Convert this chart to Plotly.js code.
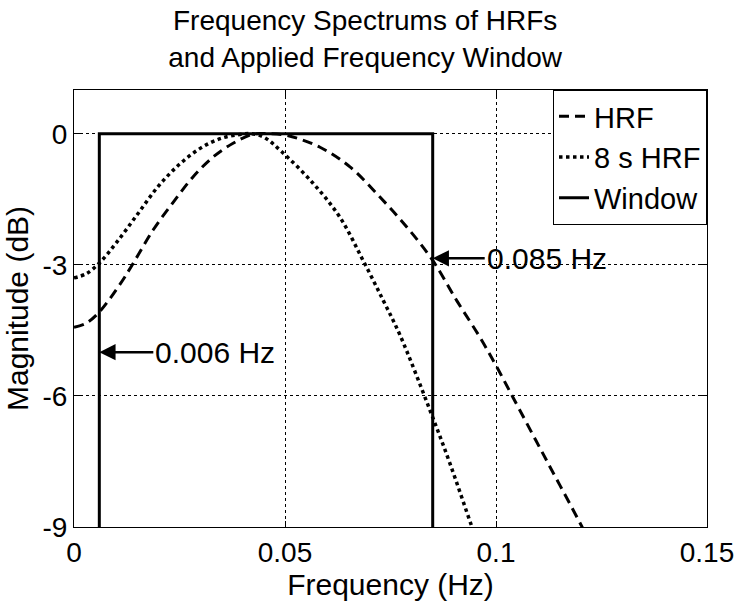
<!DOCTYPE html>
<html>
<head>
<meta charset="utf-8">
<script src="https://cdn.plot.ly/plotly-3.0.1.min.js"></script>
<style>
  body { margin: 0; background: #fff; }
  #chart { width: 745px; height: 603px; }
</style>
</head>
<body>
<div id="chart"></div>
<script>
        // HRF spectrum (dashed)
        var hrfFreq = [0, 0.003, 0.006, 0.011, 0.014, 0.0187, 0.0235, 0.0282, 0.033, 0.0377, 0.0424, 0.046, 0.0505, 0.0583, 0.0654, 0.0725, 0.0789, 0.085, 0.0907, 0.0962, 0.1002, 0.104, 0.112, 0.1204, 0.125];
        var hrfDb = [-4.43, -4.33, -4.08, -3.43, -2.97, -2.21, -1.57, -0.99, -0.53, -0.22, -0.01, 0, -0.04, -0.31, -0.76, -1.45, -2.14, -2.9, -3.82, -4.66, -5.34, -6.03, -7.48, -9.0, -9.9];

        // 8 s HRF spectrum (dotted)
        var hrf8Freq = [0, 0.003, 0.0062, 0.01, 0.015, 0.02, 0.025, 0.03, 0.035, 0.04, 0.042, 0.045, 0.0493, 0.0567, 0.063, 0.0685, 0.0733, 0.0773, 0.0844, 0.0891, 0.0943, 0.098];
        var hrf8Db = [-3.3, -3.2, -2.94, -2.5, -1.85, -1.2, -0.7, -0.33, -0.1, -0.01, 0, -0.08, -0.42, -1.14, -1.91, -2.9, -3.82, -4.62, -6.34, -7.55, -9.0, -10];

        // frequency window
        var winFreq = [0.006, 0.006, 0.085, 0.085];
        var winDb = [-9, 0, 0, -9];

        var xTicks = [0, 0.05, 0.1, 0.15];
        var xTickText = ['0', '0.05', '0.1', '0.15'];
        var yTicks = [-9, -6, -3, 0];
        var yTickText = ['-9', '-6', '-3', '0'];

        var fontFam = 'Arial, "Liberation Sans", Helvetica, sans-serif';

        var hrf = {
            x: hrfFreq, y: hrfDb, name: 'HRF', type: 'scatter', mode: 'lines',
            line: {color: '#000', width: 3, dash: '10px,6px', shape: 'spline'}
        };
        var hrf8 = {
            x: hrf8Freq, y: hrf8Db, name: '8 s HRF', type: 'scatter', mode: 'lines',
            line: {color: '#000', width: 3.5, dash: 'dot', shape: 'spline'}
        };
        var win = {
            x: winFreq, y: winDb, name: 'Window', type: 'scatter', mode: 'lines',
            line: {color: '#000', width: 3}
        };

        var axisBase = {
            showline: true, linecolor: '#000', linewidth: 1, mirror: 'ticks',
            ticks: 'inside', ticklen: 6, tickcolor: '#000',
            showgrid: true, gridcolor: '#000', gridwidth: 1, griddash: 'dot',
            zeroline: false, tickfont: {size: 28, color: '#000'}
        };

        var layout = {
            width: 745, height: 603,
            margin: {l: 74, r: 38, t: 90, b: 76},
            paper_bgcolor: '#fff', plot_bgcolor: '#fff',
            font: {family: fontFam, color: '#000'},
            showlegend: true,
            title: {
                text: 'Frequency Spectrums of HRFs<br>and Applied Frequency Window',
                font: {size: 28, color: '#000'},
                xref: 'paper', x: 0.46, xanchor: 'center',
                yref: 'container', y: 0.95, yanchor: 'top'
            },
            xaxis: Object.assign({}, axisBase, {
                range: [0, 0.15], tickvals: xTicks, ticktext: xTickText,
                title: {text: 'Frequency (Hz)', font: {size: 30, color: '#000'}, standoff: 0}
            }),
            yaxis: Object.assign({}, axisBase, {
                range: [-9, 1], tickvals: yTicks, ticktext: yTickText,
                title: {text: 'Magnitude (dB)', font: {size: 30, color: '#000'}, standoff: 4}
            }),
            legend: {
                x: 1, xanchor: 'right', y: 1, yanchor: 'top',
                bgcolor: '#fff', bordercolor: '#000', borderwidth: 1,
                font: {size: 29, color: '#000'},
                tracegroupgap: 0, itemwidth: 30
            },
            annotations: [
                {x: 0.085, y: -2.85, xref: 'x', yref: 'y', text: '0.085 Hz',
                 showarrow: true, ax: 52, ay: 0, xanchor: 'left',
                 arrowhead: 2, arrowsize: 1.3, arrowwidth: 2.5, arrowcolor: '#000', standoff: 0,
                 font: {size: 30, color: '#000'}},
                {x: 0.006, y: -5.0, xref: 'x', yref: 'y', text: '0.006 Hz',
                 showarrow: true, ax: 54, ay: 0, xanchor: 'left',
                 arrowhead: 2, arrowsize: 1.3, arrowwidth: 2.5, arrowcolor: '#000', standoff: 0,
                 font: {size: 30, color: '#000'}}
            ]
        };

        Plotly.newPlot('chart', [hrf, hrf8, win], layout, {displayModeBar: false, staticPlot: true});
</script>
</body>
</html>
